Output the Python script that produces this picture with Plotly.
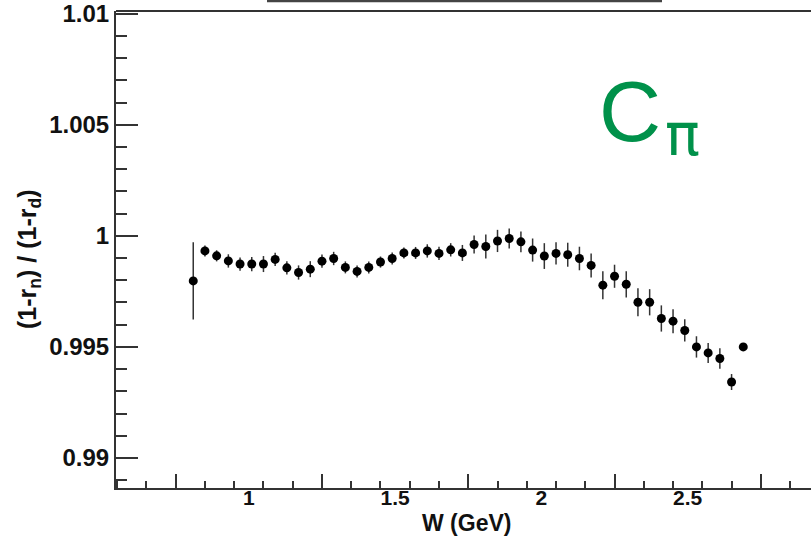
import plotly.graph_objects as go

W = [0.81, 0.85, 0.89, 0.93, 0.97, 1.01, 1.05, 1.09, 1.13, 1.17, 1.21, 1.25,
     1.29, 1.33, 1.37, 1.41, 1.45, 1.49, 1.53, 1.57, 1.61, 1.65, 1.69, 1.73,
     1.77, 1.81, 1.85, 1.89, 1.93, 1.97, 2.01, 2.05, 2.09, 2.13, 2.17, 2.21,
     2.25, 2.29, 2.33, 2.37, 2.41, 2.45, 2.49, 2.53, 2.57, 2.61, 2.65, 2.69]
ratio = [0.99797, 0.99932, 0.99910, 0.99887, 0.99873, 0.99873, 0.99873, 0.99894,
         0.99856, 0.99835, 0.99850, 0.99886, 0.99898, 0.99858, 0.99840, 0.99858,
         0.99882, 0.99898, 0.99923, 0.99923, 0.99932, 0.99921, 0.99937, 0.99923,
         0.99961, 0.99952, 0.99977, 0.99988, 0.99973, 0.99936, 0.99909, 0.99921,
         0.99915, 0.99898, 0.99867, 0.99778, 0.99818, 0.99782, 0.99701, 0.99701,
         0.99628, 0.99616, 0.99574, 0.99500, 0.99473, 0.99448, 0.99342, 0.99500]
err = [0.00174, 0.00025, 0.00025, 0.00030, 0.00030, 0.00032, 0.00036, 0.00030,
       0.00030, 0.00032, 0.00036, 0.00030, 0.00030, 0.00027, 0.00027, 0.00027,
       0.00025, 0.00027, 0.00025, 0.00027, 0.00030, 0.00030, 0.00030, 0.00036,
       0.00040, 0.00054, 0.00050, 0.00045, 0.00047, 0.00052, 0.00058, 0.00050,
       0.00054, 0.00053, 0.00054, 0.00063, 0.00052, 0.00059, 0.00063, 0.00059,
       0.00059, 0.00054, 0.00050, 0.00048, 0.00045, 0.00046, 0.00036, 0.00015]

x_labels = [1, 1.5, 2, 2.5]
x_label_text = ["1", "1.5", "2", "2.5"]
x_long_ticks = [0.75, 1.25, 1.75, 2.25, 2.75]
y_ticks = [0.99, 0.995, 1.0, 1.005, 1.01]
y_tick_text = ["0.99", "0.995", "1", "1.005", "1.01"]

XR = [0.546, 2.9215]
YR = [0.98865, 1.01012]
AX = "#333333"
FONT = "Liberation Sans"

fig = go.Figure()
fig.add_trace(go.Scatter(
    x=W, y=ratio, mode="markers",
    marker=dict(color="black", size=9, symbol="circle"),
    error_y=dict(type="data", array=err, visible=True, color="#333333",
                 thickness=1.5, width=0),
    showlegend=False, hoverinfo="x+y"))
fig.add_trace(go.Scatter(x=[], y=[], xaxis="x2", showlegend=False))

fig.update_layout(
    width=811, height=537,
    margin=dict(l=116, r=0, t=11, b=49),
    paper_bgcolor="white", plot_bgcolor="white",
    xaxis=dict(range=XR, showgrid=False, zeroline=False,
               showline=True, linecolor=AX, linewidth=2,
               tickmode="array", tickvals=x_long_ticks, showticklabels=False,
               ticks="inside", ticklen=14, tickwidth=1.5, tickcolor=AX,
               minor=dict(tickmode="linear", tick0=0.65, dtick=0.1,
                          ticks="inside", ticklen=7, tickwidth=1.5,
                          tickcolor=AX, showgrid=False)),
    xaxis2=dict(range=XR, overlaying="x", side="bottom", anchor="y",
                showgrid=False, zeroline=False, showline=False,
                tickmode="array", tickvals=x_labels, ticktext=x_label_text,
                ticks="", ticklabelstandoff=-5,
                tickfont=dict(family=FONT, size=21, color="#111",
                              weight="bold")),
    yaxis=dict(range=YR, showgrid=False, zeroline=False,
               showline=True, linecolor=AX, linewidth=2,
               tickmode="array", tickvals=y_ticks, ticktext=y_tick_text,
               ticks="inside", ticklen=22, tickwidth=1.5, tickcolor=AX,
               minor=dict(tickmode="linear", tick0=0.99, dtick=0.001,
                          ticks="inside", ticklen=11, tickwidth=1.5,
                          tickcolor=AX, showgrid=False),
               ticklabelstandoff=0,
               tickfont=dict(family=FONT, size=24, color="#111",
                             weight="bold")),
    shapes=[
        dict(type="line", xref="paper", yref="paper", x0=0, x1=1, y0=1, y1=1,
             line=dict(color=AX, width=2)),
        dict(type="line", xref="paper", yref="paper",
             x0=(267 - 116) / 695, x1=(662 - 116) / 695,
             y0=1 + 10 / 477, y1=1 + 10 / 477,
             line=dict(color="#444", width=2.5)),
    ],
    annotations=[
        dict(text="W (GeV)", xref="paper", yref="paper",
             x=(466 - 116) / 695, y=(488 - 523) / 477,
             xanchor="center", yanchor="middle", showarrow=False,
             borderpad=0,
             font=dict(family=FONT, size=23, color="#111", weight="bold")),
        dict(text="(1-r<sub>n</sub>) / (1-r<sub>d</sub>)", textangle=-90,
             xref="paper", yref="paper", x=(29 - 116) / 695,
             y=(488 - 260) / 477, xanchor="center", yanchor="middle",
             showarrow=False,
             font=dict(family=FONT, size=25, color="#111", weight="bold")),
        dict(text="C", xref="paper", yref="paper",
             x=(630 - 116) / 695, y=(488 - 111) / 477,
             xanchor="center", yanchor="middle", showarrow=False,
             font=dict(family=FONT, size=86, color="#00914A")),
        dict(text="π", xref="paper", yref="paper",
             x=(682 - 116) / 695, y=(488 - 135) / 477,
             xanchor="center", yanchor="middle", showarrow=False,
             font=dict(family="DejaVu Sans", size=58, color="#00914A")),
    ],
)

fig.write_html("out.html")
